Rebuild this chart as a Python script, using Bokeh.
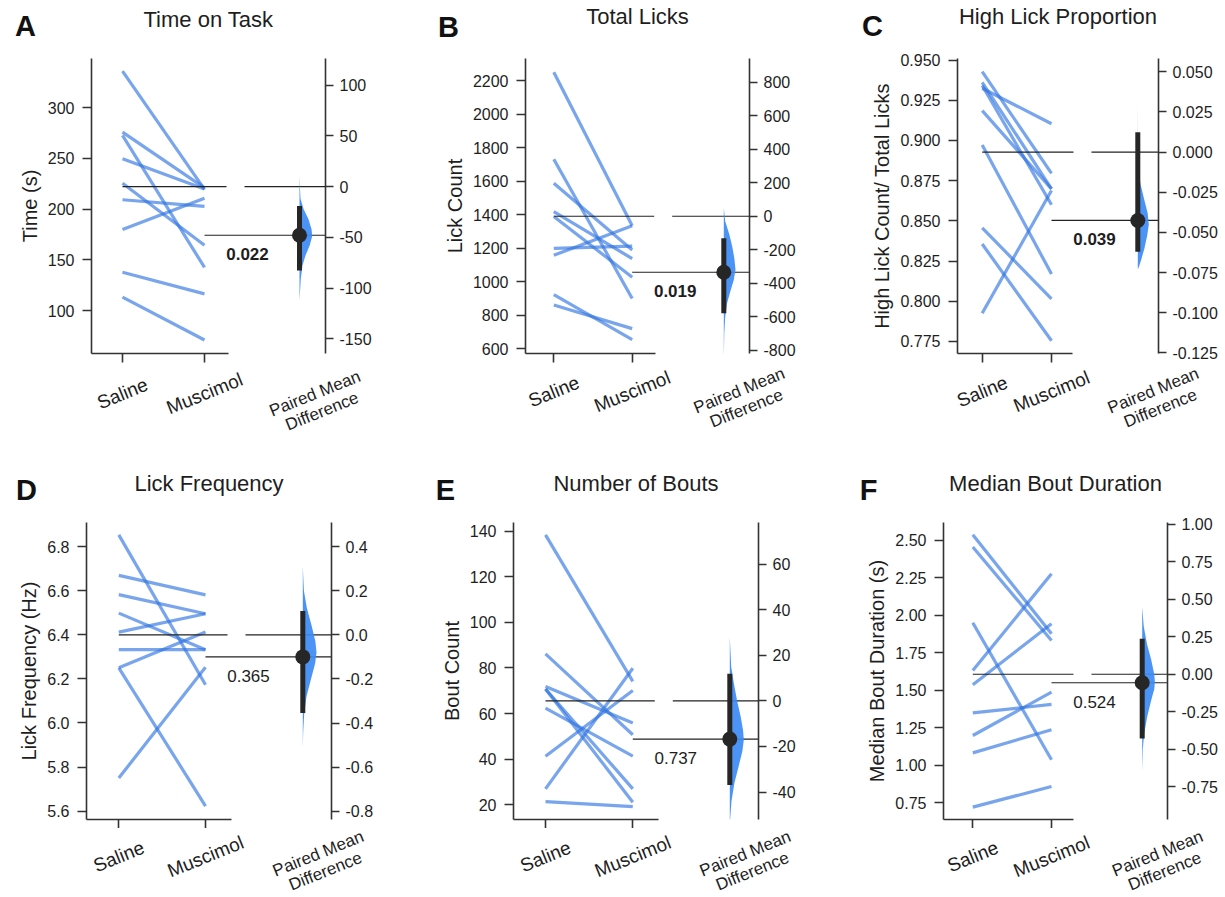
import math
from bokeh.plotting import figure
from bokeh.layouts import row, column
from bokeh.models import (Range1d, LinearAxis, SingleIntervalTicker, FixedTicker,
                          NumeralTickFormatter, ColumnDataSource)
from bokeh.core.properties import value
from bokeh.embed import file_html
from bokeh.resources import INLINE

FONT = "Liberation Sans"
TXT = "#1e1e1e"
AX = "#333333"

# ---------------- data ----------------
groups = ["Saline", "Muscimol"]
contrast_label = "Paired Mean\nDifference"
letters = ["A", "B", "C", "D", "E", "F"]
titles = ["Time on Task", "Total Licks", "High Lick Proportion",
          "Lick Frequency", "Number of Bouts", "Median Bout Duration"]
y_labels = ["Time (s)", "Lick Count", "High Lick Count/ Total Licks",
            "Lick Frequency (Hz)", "Bout Count", "Median Bout Duration (s)"]

saline_time = [336.1, 276.0, 272.7, 249.7, 225.6, 209.3, 180.0, 137.8, 113.4]
muscimol_time = [219.5, 221.0, 142.6, 220.0, 164.4, 202.8, 210.9, 116.6, 71.1]
saline_licks = [2249, 1730, 1587, 1417, 1388, 1198, 1157, 922, 860]
muscimol_licks = [1333, 899, 1188, 1137, 1026, 1212, 1333, 654, 719]
saline_highprop = [0.9428, 0.9362, 0.9342, 0.9325, 0.9186, 0.8972, 0.8457, 0.8356, 0.7925]
muscimol_highprop = [0.8795, 0.8699, 0.8600, 0.9104, 0.8699, 0.8169, 0.8015, 0.7754, 0.8689]
saline_freq = [6.853, 6.669, 6.582, 6.498, 6.412, 6.332, 6.250, 6.250, 5.750]
muscimol_freq = [6.173, 6.581, 6.495, 6.332, 6.495, 6.332, 6.412, 5.623, 6.253]
saline_bouts = [138.4, 86.2, 71.9, 70.8, 70.8, 62.4, 41.3, 27.0, 21.4]
muscimol_bouts = [74.1, 50.7, 55.9, 27.0, 21.1, 41.3, 70.1, 79.9, 19.2]
saline_dur = [2.538, 2.456, 1.951, 1.633, 1.537, 1.350, 1.199, 1.083, 0.721]
muscimol_dur = [1.877, 1.833, 1.037, 2.278, 1.944, 1.406, 1.488, 1.237, 0.859]

p_values = ["0.022", "0.019", "0.039", "0.365", "0.737", "0.524"]
p_bold = [True, True, True, False, False, False]
ci_low = [-82.8, -579.0, -0.062, -0.3545, -36.9, -0.428]
ci_high = [-19.1, -131.5, 0.0123, 0.1076, 11.9, 0.237]

# bootstrap distribution outline (difference value, relative width)
violin_time_diff = [11, 0, -12, -22, -32, -42, -49, -58, -68, -78, -91, -112]
violin_time_w = [0, 0.03, 0.08, 0.32, 0.7, 0.95, 1.0, 0.8, 0.47, 0.23, 0.1, 0]
violin_licks_diff = [50, -30, -110, -180, -250, -320, -380, -450, -520, -600, -700, -860]
violin_licks_w = [0, 0.12, 0.48, 0.72, 0.9, 1.0, 0.85, 0.55, 0.28, 0.12, 0.04, 0]
violin_highprop_diff = [0.031, 0.0, -0.010, -0.020, -0.030, -0.038, -0.045, -0.052, -0.060, -0.066, -0.071, -0.073]
violin_highprop_w = [0, 0.02, 0.06, 0.25, 0.6, 0.9, 1.0, 0.85, 0.6, 0.35, 0.12, 0]
violin_freq_diff = [0.31, 0.2, 0.12, 0.04, -0.03, -0.08, -0.13, -0.2, -0.28, -0.36, -0.44, -0.51]
violin_freq_w = [0, 0.08, 0.3, 0.65, 0.92, 1.0, 0.9, 0.6, 0.27, 0.1, 0.03, 0]
violin_bouts_diff = [28, 15, 8, 0, -7, -13, -17, -22, -29, -36, -44, -54]
violin_bouts_w = [0, 0.1, 0.28, 0.52, 0.78, 0.95, 1.0, 0.9, 0.62, 0.33, 0.12, 0]
violin_dur_diff = [0.45, 0.32, 0.2, 0.1, 0.0, -0.05, -0.1, -0.16, -0.28, -0.4, -0.5, -0.65]
violin_dur_w = [0, 0.12, 0.38, 0.7, 0.95, 1.0, 0.95, 0.75, 0.4, 0.15, 0.05, 0]

y_limits = [(57.8, 348.5), (570.5, 2331.7), (0.7675, 0.9510),
            (5.562, 6.909), (13.55, 143.8), (0.6385, 2.620)]
tick_interval = [50, 200, 0.025, 0.2, 20, 0.25]
tick_format = ["0", "0", "0.000", "0.0", "0", "0.00"]

panels = [
    (saline_time, muscimol_time, violin_time_diff, violin_time_w),
    (saline_licks, muscimol_licks, violin_licks_diff, violin_licks_w),
    (saline_highprop, muscimol_highprop, violin_highprop_diff, violin_highprop_w),
    (saline_freq, muscimol_freq, violin_freq_diff, violin_freq_w),
    (saline_bouts, muscimol_bouts, violin_bouts_diff, violin_bouts_w),
    (saline_dur, muscimol_dur, violin_dur_diff, violin_dur_w),
]

# ---------------- layout (page pixels) ----------------
PAGE_W = 1225
HEADER1 = (0, 44)      # (top, height)
ROW1 = (44, 321)
FOOTER1 = (365, 75)
HEADER2 = (440, 65)
ROW2 = (505, 323)
FOOTER2 = (828, 69)

LAYOUT = [
    dict(fx=0, w=385, L=91, R=325, T=58, B=356, S=122, M=204, dot=299, spine=228, lx=25, ly=25, vw=12.7, gl=37, pl=46),
    dict(fx=385, w=424, L=525, R=749, T=55, B=353, S=553.3, M=631.7, dot=723.3, spine=655, lx=448, ly=26, vw=11.7, gl=38, pl=46),
    dict(fx=809, w=416, L=957, R=1158, T=55, B=353, S=981.7, M=1051, dot=1137.3, spine=1071.7, lx=872, ly=25, vw=11.0, gl=38, pl=46),
    dict(fx=0, w=391, L=86, R=331, T=522, B=819, S=118.3, M=205, dot=302.3, spine=230.7, lx=26, ly=489, vw=13.7, gl=37, pl=43),
    dict(fx=391, w=427, L=513, R=758, T=522, B=819, S=545, M=632.3, dot=729.3, spine=658.3, lx=445, ly=489, vw=14.0, gl=37, pl=43),
    dict(fx=818, w=407, L=943, R=1167, T=522, B=819, S=972.3, M=1051, dot=1141.7, spine=1073.3, lx=868, ly=489, vw=12.7, gl=37, pl=43),
]


def style_axis(ax, side):
    ax.axis_line_color = AX
    ax.axis_line_width = 1.6
    ax.major_tick_line_color = AX
    ax.major_tick_line_width = 1.6
    ax.major_tick_in = 0
    ax.minor_tick_line_color = None
    ax.major_label_text_font = FONT
    ax.major_label_text_font_size = "16px"
    ax.major_label_text_color = TXT
    ax.axis_label_text_font = FONT
    ax.axis_label_text_font_size = "20px"
    ax.axis_label_text_font_style = "normal"
    ax.axis_label_text_color = TXT
    if side == "left":
        ax.major_tick_out = 9
        ax.major_label_standoff = 8
        ax.axis_label_standoff = 4
    elif side == "right":
        ax.major_tick_out = 8
        ax.major_label_standoff = 6
    else:
        ax.major_tick_out = 9
        ax.major_label_standoff = 0
        ax.axis_label_standoff = 0
        ax.major_label_text_font_size = "0px"


def make_panel(i, row_top, row_h):
    lay = LAYOUT[i]
    sal, mus, vdiff, vw = panels[i]
    n = len(sal)
    unit = lay["M"] - lay["S"]
    y0, y1 = y_limits[i]

    def X(px):
        return (px - lay["S"]) / unit

    x0, x1 = X(lay["L"]), X(lay["R"])
    smean = sum(sal) / n
    mmean = sum(mus) / n
    mdiff = mmean - smean
    dotx = X(lay["dot"])

    p = figure(width=lay["w"], height=row_h,
               x_range=Range1d(x0, x1), y_range=Range1d(y0, y1),
               output_backend="svg", toolbar_location=None, tools="", title=None,
               min_border_left=lay["L"] - lay["fx"],
               min_border_right=lay["fx"] + lay["w"] - lay["R"],
               min_border_top=lay["T"] - row_top,
               min_border_bottom=row_top + row_h - lay["B"])
    p.outline_line_color = None
    p.xgrid.visible = False
    p.ygrid.visible = False
    p.background_fill_color = "white"
    p.border_fill_color = "white"

    p.extra_y_ranges = {"diff": Range1d(y0 - smean, y1 - smean)}

    ya = p.yaxis[0]
    ya.ticker = SingleIntervalTicker(interval=tick_interval[i], num_minor_ticks=0)
    ya.formatter = NumeralTickFormatter(format=tick_format[i])
    ya.axis_label = y_labels[i]
    style_axis(ya, "left")

    xa = p.xaxis[0]
    xa.ticker = FixedTicker(ticks=[0, 1])
    xa.major_label_overrides = {0: "", 1: ""}
    xa.bounds = (x0, X(lay["spine"]))
    style_axis(xa, "below")

    ra = LinearAxis(y_range_name="diff",
                    ticker=SingleIntervalTicker(interval=tick_interval[i], num_minor_ticks=0),
                    formatter=NumeralTickFormatter(format=tick_format[i]))
    style_axis(ra, "right")
    p.add_layout(ra, "right")

    # paired slopes
    src = ColumnDataSource(dict(gx0=[0] * n, gx1=[1] * n, ys=sal, ym=mus))
    p.segment("gx0", "ys", "gx1", "ym", source=src,
              line_color="#2f74e0", line_alpha=0.65, line_width=3.2)

    # group mean reference lines
    p.segment(x0=[0, X(lay["M"] + 40)], y0=[smean, smean],
              x1=[X(lay["M"] + 22), x1], y1=[smean, smean],
              line_color="#222222", line_width=1.2)
    p.segment(x0=[1], y0=[mmean], x1=[x1], y1=[mmean],
              line_color="#222222", line_width=1.2)

    # half violin of bootstrap distribution
    wmax = lay["vw"] / unit
    vx = [dotx + w * wmax for w in vw] + [dotx, dotx]
    vy = list(vdiff) + [vdiff[-1], vdiff[0]]
    p.patch(vx, vy, y_range_name="diff", fill_color="#3d8af5", fill_alpha=0.92,
            line_color=None)

    # CI and mean difference
    p.segment(x0=[dotx], y0=[ci_low[i]], x1=[dotx], y1=[ci_high[i]],
              y_range_name="diff", line_color="#262626", line_width=5)
    p.scatter([dotx], [mdiff], y_range_name="diff", size=15,
              fill_color="#262626", line_color=None)

    # p-value text
    ppx = (lay["B"] - lay["T"]) / (y1 - y0)
    p.text(x=[X(lay["M"] + 43)], y=[mmean - 19 / ppx], text=[p_values[i]],
           text_font=value(FONT), text_font_size="17px",
           text_font_style="bold" if p_bold[i] else "normal",
           text_color=TXT, text_align="center", text_baseline="middle")
    return p


def strip_fig(top, height):
    f = figure(width=PAGE_W, height=height, x_range=Range1d(0, PAGE_W),
               y_range=Range1d(height, 0), output_backend="svg",
               toolbar_location=None, tools="", title=None,
               x_axis_location=None, y_axis_location=None,
               min_border_left=0, min_border_right=0, min_border_top=0, min_border_bottom=0)
    f.outline_line_color = None
    f.xgrid.visible = False
    f.ygrid.visible = False
    f.background_fill_color = "white"
    f.border_fill_color = "white"
    return f


def header(idx, top, height):
    f = strip_fig(top, height)
    lays = [LAYOUT[i] for i in idx]
    f.text(x=[l["lx"] for l in lays], y=[l["ly"] - top for l in lays],
           text=[letters[i] for i in idx], text_font=value(FONT), text_font_size="29px",
           text_font_style="bold", text_color="#111111", text_line_height=1.0,
           text_align="center", text_baseline="middle")
    f.text(x=[(l["L"] + l["R"]) / 2 for l in lays], y=[l["T"] - 39 - top for l in lays],
           text=[titles[i] for i in idx], text_font=value(FONT), text_font_size="22px",
           text_color=TXT, text_line_height=1.0,
           text_align="center", text_baseline="middle")
    return f


def footer(idx, top, height):
    f = strip_fig(top, height)
    gx, gy, gt = [], [], []
    cx, cy = [], []
    for i in idx:
        l = LAYOUT[i]
        for g, px in zip(groups, [l["S"], l["M"]]):
            gx.append(px)
            gy.append(l["B"] + l["gl"] - top)
            gt.append(g)
        cx.append(l["dot"] + 19)
        cy.append(l["B"] + l["pl"] - top)
    f.text(x=gx, y=gy, text=gt, angle=22, angle_units="deg",
           text_font=value(FONT), text_font_size="19px", text_color=TXT,
           text_line_height=1.0, text_align="center", text_baseline="middle")
    f.text(x=cx, y=cy, text=[contrast_label] * len(cx), angle=22, angle_units="deg",
           text_font=value(FONT), text_font_size="17px", text_color=TXT,
           text_line_height=1.0, text_align="center", text_baseline="middle")
    return f


figs1 = [make_panel(i, ROW1[0], ROW1[1]) for i in range(3)]
figs2 = [make_panel(i, ROW2[0], ROW2[1]) for i in range(3, 6)]

layout = column(
    header([0, 1, 2], *HEADER1),
    row(*figs1, spacing=0),
    footer([0, 1, 2], *FOOTER1),
    header([3, 4, 5], *HEADER2),
    row(*figs2, spacing=0),
    footer([3, 4, 5], *FOOTER2),
    spacing=0,
)

open("out.html", "w").write(file_html(layout, INLINE))
